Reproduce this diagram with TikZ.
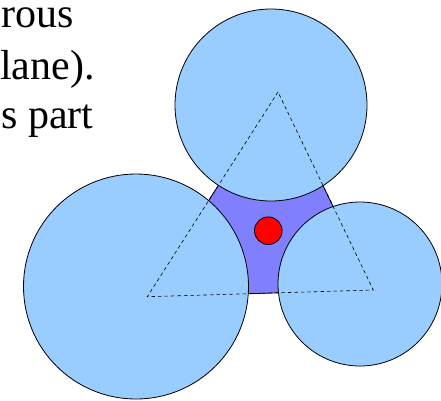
\documentclass[tikz,border=0pt]{standalone}
\usepackage{fontspec}
\setmainfont{Liberation Serif}
\definecolor{discblue}{HTML}{99CCFF}
\definecolor{gapviolet}{HTML}{8080FF}
\begin{document}
\begin{tikzpicture}[x=1pt,y=-1pt,
  disc/.style={draw=black, line width=0.8pt, fill=discblue},
  gapfill/.style={draw=black, line width=0.8pt, fill=gapviolet},
  tri/.style={draw=black, line width=0.6pt, dash pattern=on 3.5pt off 3pt},
  dot/.style={draw=black, line width=0.8pt, fill=red},
  txt/.style={anchor=base west, inner sep=0pt, font=\fontsize{42}{50}\selectfont}]
\useasboundingbox (0,0) rectangle (441,400);
\clip (0,0) rectangle (441,400);
% triangle vertices
\coordinate (A) at (278,92);
\coordinate (B) at (147.3,296.7);
\coordinate (C) at (373.3,290);
% circle centres
\coordinate (T) at (271,105);
\coordinate (L) at (136,286.5);
\coordinate (R) at (360,284);
\coordinate (D) at (268.3,230.7);
% gap region
\draw[gapfill] (A) -- (B) -- (C) -- cycle;
% discs
\draw[disc] (T) circle[radius=96pt];
\draw[disc] (L) circle[radius=112.5pt];
\draw[disc] (R) circle[radius=82pt];
% dashed triangle
\draw[tri] (A) -- (B) -- (C) -- cycle;
% red dot
\draw[dot] (D) circle[radius=13.8pt];
% text
\node[txt] (t1) at (1,27) {rous};
\node[txt] (t2) at (0,79) {lane).};
\node[txt] (t3) at (1,128) {s part};
\end{tikzpicture}
\end{document}
